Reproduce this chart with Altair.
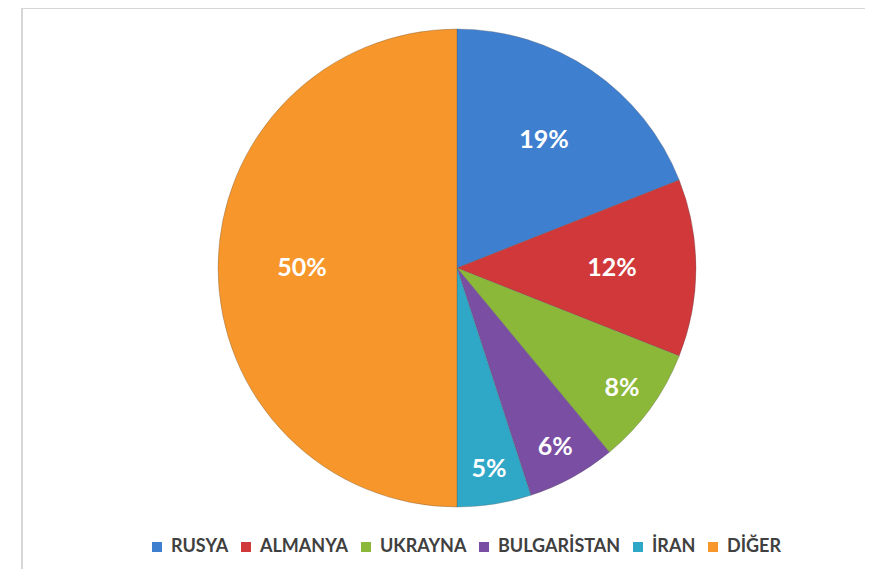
import altair as alt
import pandas as pd

countries = ["RUSYA", "ALMANYA", "UKRAYNA", "BULGARİSTAN", "İRAN", "DİĞER"]
shares = [19, 12, 8, 6, 5, 50]
labels = ["19%", "12%", "8%", "6%", "5%", "50%"]
colors = ["#3F7FD0", "#D0383A", "#8CB83A", "#7A4FA3", "#2FA8C8", "#F7962A"]

df = pd.DataFrame({
    "country": countries,
    "share": shares,
    "label": labels,
    "idx": list(range(len(countries))),
})

CX, CY, R = 449, 260, 239
FONT = "Lato"

theta_scale = alt.Scale(domain=[0, 100], range=[0, 6.283185307179586])

base = alt.Chart(df).transform_window(
    cum="sum(share)", sort=[alt.SortField("idx", order="ascending")]
).transform_calculate(
    start="datum.cum - datum.share",
    mid="datum.cum - datum.share / 2",
    r="datum.share >= 12 ? 155 : 204",
)

pie = base.mark_arc(radius=R, stroke="#555555", strokeWidth=0.6, strokeOpacity=0.5).encode(
    theta=alt.Theta("start:Q", scale=theta_scale),
    theta2="cum:Q",
    color=alt.Color(
        "country:N",
        scale=alt.Scale(domain=countries, range=colors),
        sort=countries,
        legend=alt.Legend(
            orient="none", direction="horizontal", legendX=140, legendY=530,
            title=None, labelFontSize=18, labelFont=FONT, labelFontWeight="bold",
            labelColor="#404040", symbolType="square", symbolSize=100,
            symbolStrokeWidth=0, columnPadding=8, labelOffset=5,
        ),
    ),
    x=alt.value(CX),
    y=alt.value(CY),
)

text = base.mark_text(font=FONT, fontSize=25, fontWeight="bold", color="white").encode(
    theta=alt.Theta("mid:Q", scale=theta_scale),
    radius=alt.Radius("r:Q", scale=None),
    text="label:N",
    x=alt.value(CX),
    y=alt.value(CY),
)

frame_df = pd.DataFrame({"a": [0]})
top_rule = alt.Chart(frame_df).mark_rule(color="#d6d6d6", strokeWidth=2).encode(
    x=alt.value(14), x2=alt.value(857), y=alt.value(0)
)
left_rule = alt.Chart(frame_df).mark_rule(color="#d6d6d6", strokeWidth=2).encode(
    x=alt.value(14), y=alt.value(0), y2=alt.value(561)
)

chart = alt.layer(top_rule, left_rule, pie, text).properties(
    width=857, height=561, autosize=alt.AutoSizeParams(type="none"), padding=0
).configure_view(stroke=None)

chart.save("out.html", embed_options={"renderer": "svg", "actions": False})
